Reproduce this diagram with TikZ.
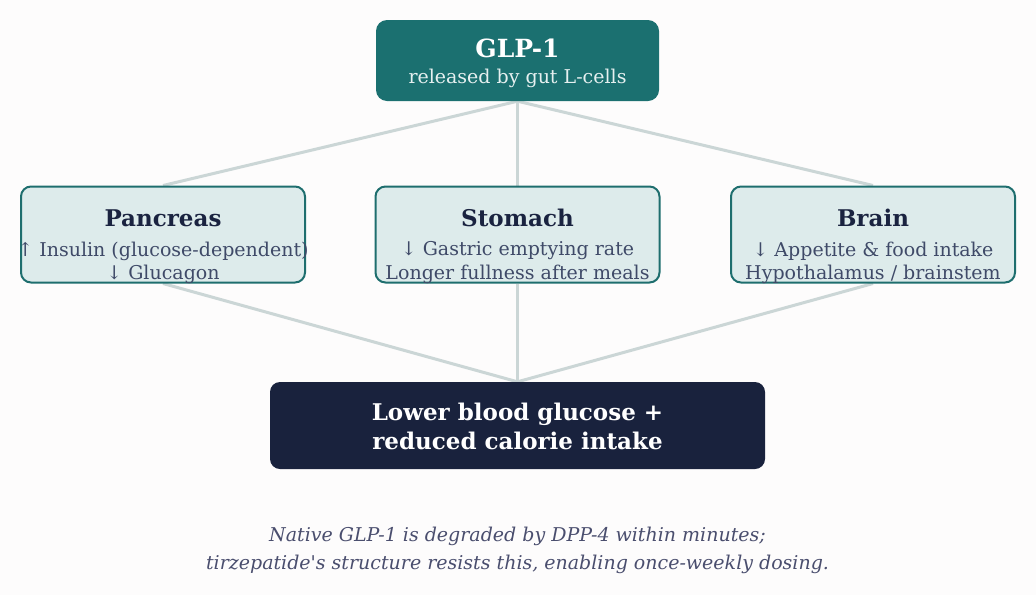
\documentclass[tikz,border=0pt]{standalone}
\usepackage{fontspec}
\setmainfont{DejaVu Serif}
\usetikzlibrary{backgrounds}
\definecolor{bgc}{HTML}{FDFCFC}
\definecolor{teal}{HTML}{1B7070}
\definecolor{tealborder}{HTML}{1E6E6E}
\definecolor{lightfill}{HTML}{DDEBEB}
\definecolor{navy}{HTML}{19223D}
\definecolor{titlec}{HTML}{1A2340}
\definecolor{bodyc}{HTML}{3F4A68}
\definecolor{linkc}{HTML}{CBD6D6}
\definecolor{notec}{HTML}{4A4E6E}
\definecolor{subc}{HTML}{E6F0F0}
\tikzset{
  topbox/.style={draw=none, fill=teal, rounded corners=11pt, minimum width=283pt, minimum height=81pt, inner sep=0pt},
  midbox/.style={draw=tealborder, line width=2pt, fill=lightfill, rounded corners=10pt, minimum width=284pt, minimum height=96pt, inner sep=0pt},
  resbox/.style={draw=none, fill=navy, rounded corners=10pt, minimum width=495pt, minimum height=87pt, inner sep=0pt},
  link/.style={draw=linkc, line width=3pt},
  toptitle/.style={text=white, font=\fontsize{25}{30}\selectfont\bfseries, inner sep=0pt},
  topsub/.style={text=subc, font=\fontsize{19}{22}\selectfont, inner sep=0pt},
  midtitle/.style={text=titlec, font=\fontsize{23}{27}\selectfont\bfseries, inner sep=0pt},
  midtext/.style={text=bodyc, font=\fontsize{19}{22}\selectfont, inner sep=0pt},
  restext/.style={text=white, font=\fontsize{23}{29}\selectfont\bfseries, align=center, inner sep=0pt},
  note/.style={text=notec, font=\fontsize{19}{28}\selectfont\itshape, align=center, inner sep=0pt}
}
\begin{document}
\begin{tikzpicture}[x=1pt,y=-1pt]
\useasboundingbox (0,0) rectangle (1036,595);

\node[topbox] (glp) at (517.5,60.5) {};
\node[toptitle] (glpt) at (517.5,48) {GLP-1};
\node[topsub] (glps) at (517.5,78) {released by gut L-cells};

\node[midbox] (pan) at (163,234.5) {};
\node[midtitle] (pant) at (163,218) {Pancreas};
\node[midtext] (pan1) at (163,251) {↑ Insulin (glucose-dependent)};
\node[midtext] (pan2) at (163,274) {↓ Glucagon};

\node[midbox] (sto) at (517.5,234.5) {};
\node[midtitle] (stot) at (517.5,218) {Stomach};
\node[midtext] (sto1) at (517.5,251) {↓ Gastric emptying rate};
\node[midtext] (sto2) at (517.5,274) {Longer fullness after meals};

\node[midbox] (bra) at (873,234.5) {};
\node[midtitle] (brat) at (873,218) {Brain};
\node[midtext] (bra1) at (873,251) {↓ Appetite \& food intake};
\node[midtext] (bra2) at (873,274) {Hypothalamus / brainstem};

\node[resbox] (res) at (517.5,425.5) {};
\node[restext] (rest) at (517.5,426.5) {Lower blood glucose +\\reduced calorie intake};

\node[note] (nt) at (517.5,550) {Native GLP-1 is degraded by DPP-4 within minutes;\\tirzepatide\textquotesingle s structure resists this, enabling once-weekly dosing.};

\begin{pgfonlayer}{background}
\fill[bgc] (0,0) rectangle (1036,595);
\draw[link] (glp.south) -- (pan.north);
\draw[link] (glp.south) -- (sto.north);
\draw[link] (glp.south) -- (bra.north);
\draw[link] (pan.south) -- (res.north);
\draw[link] (sto.south) -- (res.north);
\draw[link] (bra.south) -- (res.north);
\end{pgfonlayer}
\end{tikzpicture}
\end{document}
